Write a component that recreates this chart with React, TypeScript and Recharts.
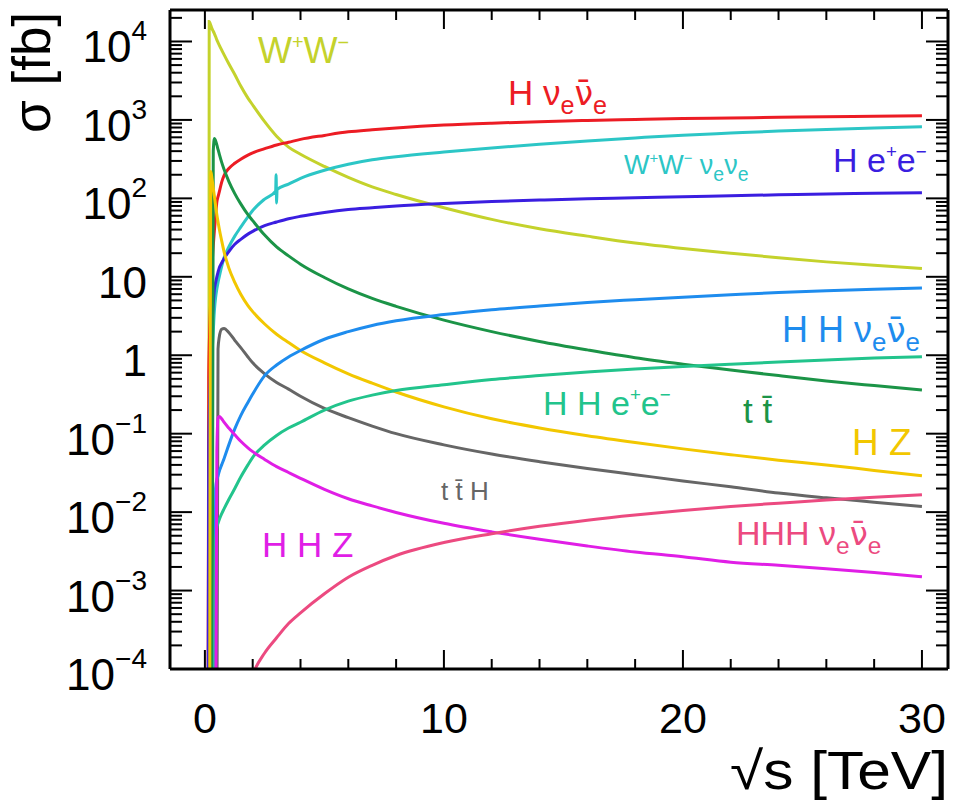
import type { ReactElement } from "react";
import { LineChart, Line, XAxis, YAxis } from "recharts";

const W = 962;
const H = 800;
const PLOT = { left: 170, right: 948, top: 10, bottom: 669 };
const FONT = "'Liberation Sans', Arial, Helvetica, sans-serif";

// sqrt(s) grid in TeV; null = series not sampled there
const _ = null;
const ENERGY = [
    0.13, 0.16, 0.18, 0.2, 0.25, 0.3, 0.35, 0.4, 0.45, 0.5, 0.55, 0.6, 0.7, 0.8, 1, 1.25, 1.5, 1.8, 2, 2.5,
    2.96, 2.98, 3, 3.02, 3.5, 4, 5, 6, 7, 8, 10, 12, 14, 16, 18, 20, 22, 24, 26, 28, 30,
];

// cross sections in fb
const WW = [
    _, 1e-6, 1.8e4, 1.75e4, 1.6e4, 1.45e4, 1.35e4, 1.25e4, 1.15e4, 1.05e4, 9700, 9000, 7800, 6800, 5200, 3800, 2700, 1900, 1550, 950,
    _, _, 620, _, 450, 365, 255, 185, 140, 112, 76, 54, 41, 33, 27, 23, 20, 17.5, 15.5, 14, 12.8,
];
const H_NUNU = [
    1e-5, 0.5, 1.2, 2, 6, 14, 25, 40, 60, 90, 105, 120, 160, 195, 240, 280, 315, 355, 380, 430,
    _, _, 480, _, 520, 565, 635, 705, 750, 790, 860, 910, 950, 985, 1015, 1040, 1060, 1080, 1100, 1115, 1130,
];
const WW_NUNU = [
    _, 1e-5, 0.02, 0.05, 0.3, 1, 2, 3.8, 5.5, 7, 8.5, 10, 13.5, 17.5, 24, 33, 43, 58, 70, 98,
    124, 200, 87, 130, 152, 180, 228, 272, 310, 340, 390, 440, 490, 540, 590, 640, 680, 720, 755, 790, 820,
];
const H_EE = [
    1e-5, 0.05, 0.15, 0.3, 1, 2.5, 4.5, 7, 8.5, 10, 11.5, 13, 15, 17, 21, 26, 30, 35, 38, 45,
    _, _, 50, _, 55, 59, 66, 72, 76, 80, 86, 91, 95, 99, 102, 105, 108, 111, 114, 116, 118,
];
const TT = [
    _, _, _, _, _, 1e-5, 400, 580, 540, 480, 420, 370, 290, 235, 165, 115, 85, 62, 52, 34,
    _, _, 24, _, 18.5, 14.5, 9.8, 7, 5.3, 4.2, 2.8, 2.0, 1.5, 1.17, 0.93, 0.77, 0.65, 0.55, 0.47, 0.41, 0.36,
];
const HZ = [
    _, _, _, 1e-5, 220, 175, 135, 105, 80, 62, 50, 41, 29, 21, 13, 8.5, 6, 4.3, 3.6, 2.5,
    _, _, 1.85, _, 1.45, 1.15, 0.8, 0.58, 0.44, 0.34, 0.22, 0.155, 0.118, 0.094, 0.077, 0.064, 0.054, 0.046, 0.04, 0.034, 0.029,
];
const TTH = [
    _, _, _, _, _, _, _, _, _, 1e-5, 1.2, 1.7, 2.15, 2.2, 1.95, 1.55, 1.25, 0.95, 0.8, 0.58,
    _, _, 0.45, _, 0.37, 0.3, 0.21, 0.16, 0.125, 0.1, 0.072, 0.055, 0.044, 0.036, 0.03, 0.025, 0.021, 0.0175, 0.0152, 0.0134, 0.0118,
];
const HH_NUNU = [
    _, _, _, _, _, _, _, 1e-5, 0.02, 0.026, 0.029, 0.033, 0.04, 0.048, 0.072, 0.115, 0.17, 0.25, 0.32, 0.55,
    _, _, 0.75, _, 0.95, 1.15, 1.6, 2.0, 2.4, 2.75, 3.3, 3.8, 4.25, 4.7, 5.1, 5.5, 5.9, 6.3, 6.65, 6.95, 7.2,
];
const HH_EE = [
    _, _, _, _, _, _, _, 1e-5, 0.004, 0.0065, 0.0072, 0.008, 0.0095, 0.011, 0.0145, 0.02, 0.028, 0.04, 0.05, 0.072,
    _, _, 0.095, _, 0.118, 0.14, 0.2, 0.26, 0.31, 0.355, 0.42, 0.49, 0.55, 0.61, 0.67, 0.72, 0.77, 0.82, 0.87, 0.92, 0.96,
];
const HHZ = [
    _, _, _, _, _, _, _, _, 1e-5, 0.06, 0.16, 0.165, 0.155, 0.14, 0.118, 0.097, 0.08, 0.066, 0.059, 0.047,
    _, _, 0.038, _, 0.032, 0.027, 0.0195, 0.0148, 0.012, 0.0099, 0.0072, 0.0056, 0.0045, 0.0037, 0.0031, 0.0027, 0.0023, 0.0021, 0.0019, 0.0017, 0.0015,
];
const HHH_NUNU = [
    _, _, _, _, _, _, _, _, _, _, _, _, _, _, _, _, _, 5.6e-5, 8.5e-5, 1.6e-4,
    _, _, 2.5e-4, _, 3.8e-4, 5.2e-4, 9.1e-4, 0.00148, 0.0021, 0.0028, 0.0041, 0.0053, 0.0066, 0.0079, 0.0092, 0.0105, 0.0118, 0.013, 0.0143, 0.0155, 0.0167,
];

const SERIES = [
    { key: "ww", values: WW, color: "#c4d22c" },
    { key: "hnunu", values: H_NUNU, color: "#ec1c24" },
    { key: "wwnunu", values: WW_NUNU, color: "#2cc6c6" },
    { key: "hee", values: H_EE, color: "#3a1ee0" },
    { key: "tt", values: TT, color: "#1b9447" },
    { key: "hz", values: HZ, color: "#f2c700" },
    { key: "tth", values: TTH, color: "#666666" },
    { key: "hhnunu", values: HH_NUNU, color: "#1e8cee" },
    { key: "hhee", values: HH_EE, color: "#22c48c" },
    { key: "hhz", values: HHZ, color: "#e01ee6" },
    { key: "hhhnunu", values: HHH_NUNU, color: "#ec4a80" },
];

const X_TICKS = [0, 2, 4, 6, 8, 10, 12, 14, 16, 18, 20, 22, 24, 26, 28, 30];
const Y_TICKS: number[] = [];
for (let k = -4; k <= 4; k++) {
    for (let m = 1; m <= 9; m++) {
        const v = m * Math.pow(10, k);
        if (v <= 2.5e4) Y_TICKS.push(v);
    }
}

const rows = ENERGY.map((x, i) => {
    const row: Record<string, number | null> = { x };
    SERIES.forEach((s) => {
        row[s.key] = s.values[i];
    });
    return row;
});

function isDecade(v: number): boolean {
    const k = Math.round(Math.log10(v));
    return Math.abs(v / Math.pow(10, k) - 1) < 1e-6;
}

function LeftTick(props: any): ReactElement {
    const { y, payload } = props;
    const v = payload.value;
    const major = isDecade(v);
    const k = Math.round(Math.log10(v));
    let label: any = null;
    if (major) {
        if (k === 0) label = "1";
        else if (k === 1) label = "10";
        else
            label = (
                <>
                    <tspan>10</tspan>
                    <tspan dy={-22} fontSize={28}>
                        {k < 0 ? "\u2212" + -k : String(k)}
                    </tspan>
                </>
            );
    }
    return (
        <g>
            <line x1={PLOT.left} x2={PLOT.left + (major ? 22 : 12)} y1={y} y2={y} stroke="#000" strokeWidth={2} />
            {label && (
                <text x={147} y={y + 21} textAnchor="end" fontSize={44} fontFamily={FONT} fill="#000">
                    {label}
                </text>
            )}
        </g>
    );
}

function RightTick(props: any): ReactElement {
    const { y, payload } = props;
    const major = isDecade(payload.value);
    return <line x1={PLOT.right} x2={PLOT.right - (major ? 22 : 12)} y1={y} y2={y} stroke="#000" strokeWidth={2} />;
}

function BottomTick(props: any): ReactElement {
    const { x, payload } = props;
    const major = payload.value % 10 === 0;
    return (
        <g>
            <line x1={x} x2={x} y1={PLOT.bottom} y2={PLOT.bottom - (major ? 19 : 10)} stroke="#000" strokeWidth={2} />
            {major && (
                <text x={x} y={733} textAnchor="middle" fontSize={43} fontFamily={FONT} fill="#000">
                    {payload.value}
                </text>
            )}
        </g>
    );
}

function TopTick(props: any): ReactElement {
    const { x, payload } = props;
    const major = payload.value % 10 === 0;
    return <line x1={x} x2={x} y1={PLOT.top} y2={PLOT.top + (major ? 19 : 10)} stroke="#000" strokeWidth={2} />;
}

// "n" normal, "bar" anti-particle (combining macron, DejaVu places it well), "sub", "sup"
type Part = [string, "n" | "bar" | "sub" | "sup"];

function RichText({ x, y, size, color, parts }: { x: number; y: number; size: number; color: string; parts: Part[] }): ReactElement {
    let level = 0;
    const spans = parts.map(([t, kind], i) => {
        const target = kind === "sub" ? size * 0.25 : kind === "sup" ? -size * 0.4 : 0;
        const dy = target - level;
        level = target;
        const fs = kind === "sub" ? size * 0.72 : kind === "sup" ? size * 0.55 : kind === "bar" ? size * 0.95 : size;
        return (
            <tspan key={i} dy={dy} fontSize={fs} fontFamily={kind === "bar" ? "'DejaVu Sans'" : undefined}>
                {kind === "bar" ? t + "\u0304" : t}
            </tspan>
        );
    });
    return (
        <text x={x} y={y} fill={color} fontSize={size} fontFamily={FONT}>
            {spans}
        </text>
    );
}

const NU = "\u03bd";
const TBAR = "t\u0304";

const LABELS: { x: number; y: number; size: number; color: string; parts: Part[] }[] = [
    { x: 258, y: 63, size: 36, color: "#c4d22c", parts: [["W", "n"], ["+", "sup"], ["W", "n"], ["\u2212", "sup"]] },
    { x: 508, y: 105, size: 35, color: "#ec1c24", parts: [["H " + NU, "n"], ["e", "sub"], [NU, "bar"], ["e", "sub"]] },
    { x: 624, y: 174, size: 27, color: "#2cc6c6", parts: [["W", "n"], ["+", "sup"], ["W", "n"], ["\u2212", "sup"], ["  " + NU, "n"], ["e", "sub"], [NU, "n"], ["e", "sub"]] },
    { x: 833, y: 172, size: 34, color: "#3a1ee0", parts: [["H e", "n"], ["+", "sup"], ["e", "n"], ["\u2212", "sup"]] },
    { x: 782, y: 342, size: 36, color: "#1e8cee", parts: [["H H " + NU, "n"], ["e", "sub"], [NU, "bar"], ["e", "sub"]] },
    { x: 543, y: 415, size: 34, color: "#22c48c", parts: [["H H e", "n"], ["+", "sup"], ["e", "n"], ["\u2212", "sup"]] },
    { x: 743, y: 423, size: 35, color: "#1b9447", parts: [["t  " + TBAR, "n"]] },
    { x: 852, y: 455, size: 37, color: "#f2c700", parts: [["H Z", "n"]] },
    { x: 441, y: 500, size: 26, color: "#666666", parts: [["t " + TBAR + " H", "n"]] },
    { x: 262, y: 557, size: 35, color: "#e01ee6", parts: [["H H Z", "n"]] },
    { x: 736, y: 545, size: 34, color: "#ec4a80", parts: [["HHH " + NU, "n"], ["e", "sub"], [NU, "bar"], ["e", "sub"]] },
];

export default function App(): ReactElement {
    return (
        <div style={{ position: "absolute", left: 0, top: 0, width: W, height: H, background: "#fff" }}>
            <LineChart width={W} height={H} data={rows} margin={{ top: 0, right: 0, bottom: 0, left: 0 }}>
                <XAxis
                    xAxisId="bottom"
                    dataKey="x"
                    type="number"
                    domain={[-1.46, 31.09]}
                    allowDataOverflow
                    ticks={X_TICKS}
                    interval={0}
                    height={H - PLOT.bottom}
                    tickLine={false}
                    tick={(p: any) => <BottomTick {...p} />}
                    axisLine={{ stroke: "#000", strokeWidth: 3 }}
                />
                <XAxis
                    xAxisId="top"
                    orientation="top"
                    dataKey="x"
                    type="number"
                    domain={[-1.46, 31.09]}
                    allowDataOverflow
                    ticks={X_TICKS}
                    interval={0}
                    height={PLOT.top}
                    tickLine={false}
                    tick={(p: any) => <TopTick {...p} />}
                    axisLine={{ stroke: "#000", strokeWidth: 3 }}
                />
                <YAxis
                    yAxisId="left"
                    scale="log"
                    type="number"
                    domain={[1e-4, 2.52e4]}
                    allowDataOverflow
                    ticks={Y_TICKS}
                    interval={0}
                    width={PLOT.left}
                    tickLine={false}
                    tick={(p: any) => <LeftTick {...p} />}
                    axisLine={{ stroke: "#000", strokeWidth: 3 }}
                />
                <YAxis
                    yAxisId="right"
                    orientation="right"
                    scale="log"
                    type="number"
                    domain={[1e-4, 2.52e4]}
                    allowDataOverflow
                    ticks={Y_TICKS}
                    interval={0}
                    width={W - PLOT.right}
                    tickLine={false}
                    tick={(p: any) => <RightTick {...p} />}
                    axisLine={{ stroke: "#000", strokeWidth: 3 }}
                />
                {SERIES.map((s) => (
                    <Line
                        key={s.key}
                        xAxisId="bottom"
                        yAxisId="left"
                        dataKey={s.key}
                        stroke={s.color}
                        strokeWidth={3}
                        type="monotone"
                        dot={false}
                        activeDot={false}
                        connectNulls
                        isAnimationActive={false}
                    />
                ))}
            </LineChart>
            <svg width={W} height={H} style={{ position: "absolute", left: 0, top: 0, pointerEvents: "none" }}>
                {LABELS.map((l, i) => (
                    <RichText key={i} {...l} />
                ))}
                <text x={50} y={133} transform="rotate(-90 50 133)" fontSize={53} fontFamily={FONT} fill="#000">
                    σ [fb]
                </text>
                <text
                    x={948}
                    y={789}
                    textAnchor="end"
                    fontSize={53}
                    fontFamily={FONT}
                    fill="#000"
                    textLength={218}
                    lengthAdjust="spacingAndGlyphs"
                >
                    √s [TeV]
                </text>
            </svg>
        </div>
    );
}
